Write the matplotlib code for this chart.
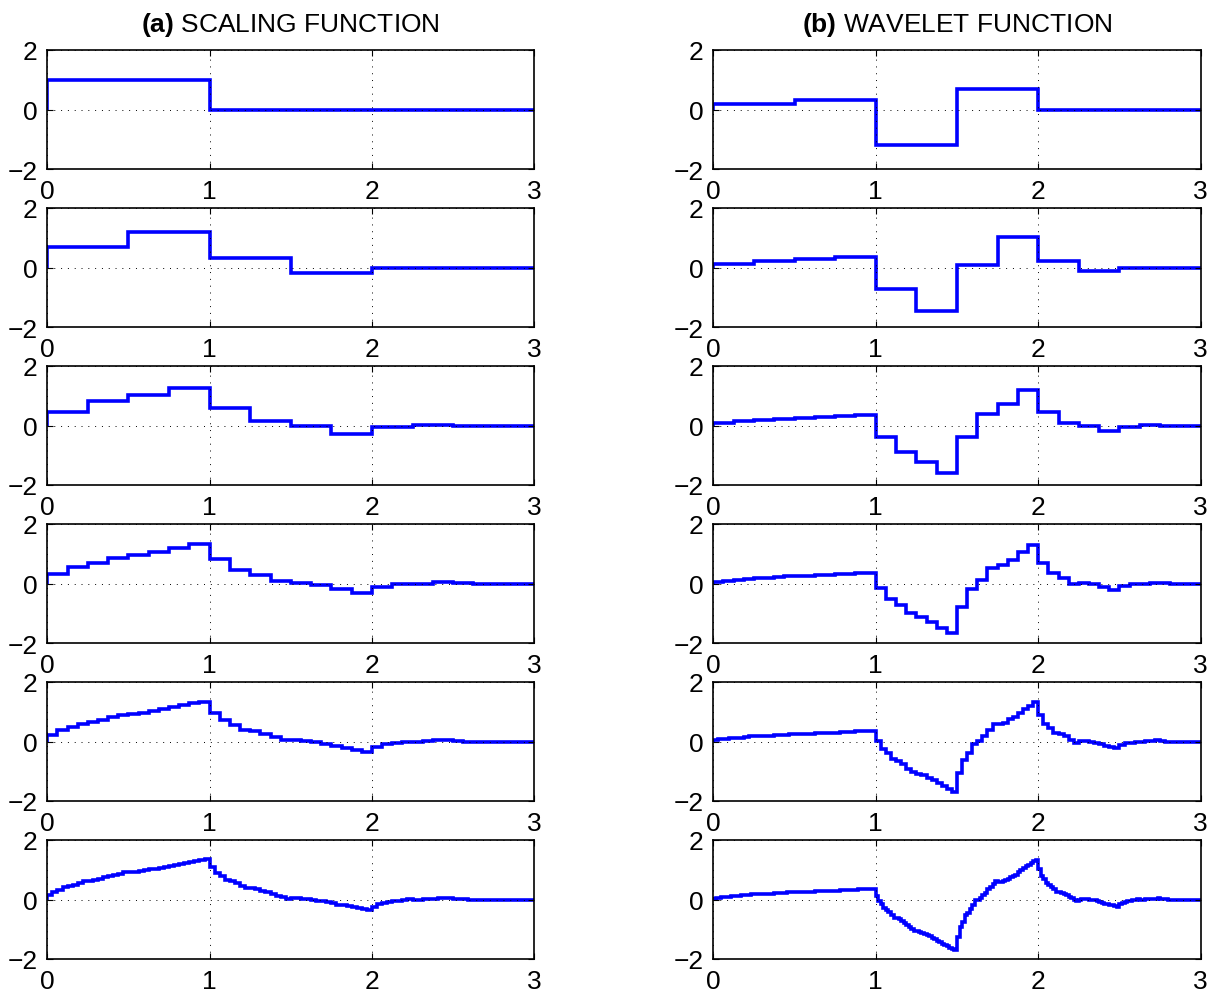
import numpy as np
import matplotlib
matplotlib.use("Agg")
import matplotlib.pyplot as plt

plt.rcParams['font.family'] = ['Liberation Sans', 'DejaVu Sans']
plt.rcParams['mathtext.fontset'] = 'custom'
plt.rcParams['mathtext.rm'] = 'Liberation Sans'
plt.rcParams['mathtext.bf'] = 'Liberation Sans:bold'

# cascade iterates, one value per step; step width halves each row
phi1 = [1.00]
phi2 = [0.68, 1.18, 0.32, -0.18]
phi3 = [0.47, 0.81, 1.02, 1.27, 0.59, 0.16, -0.02, -0.27, -0.06, 0.03]
phi4 = [0.32, 0.55, 0.70, 0.87, 0.96, 1.06, 1.20, 1.32, 0.81, 0.47, 0.30,
        0.08, 0.03, -0.06, -0.20, -0.32, -0.13, -0.02, 0.00, 0.05, 0.01, -0.01]
phi5 = [0.22, 0.38, 0.48, 0.59, 0.65, 0.73, 0.82, 0.90, 0.93, 0.97, 1.03,
        1.08, 1.15, 1.22, 1.28, 1.34, 0.97, 0.71, 0.57, 0.40, 0.35, 0.26,
        0.15, 0.04, 0.05, 0.03, -0.03, -0.07, -0.15, -0.22, -0.28, -0.34,
        -0.19, -0.09, -0.05, 0.00, 0.00, 0.01, 0.04, 0.06, 0.02, 0.00, 0.00,
        -0.01, 0.00, 0.00]
phi6 = [0.15, 0.26, 0.33, 0.41, 0.45, 0.50, 0.56, 0.62, 0.63, 0.66, 0.70,
        0.74, 0.79, 0.83, 0.87, 0.92, 0.92, 0.93, 0.96, 0.98, 1.01, 1.04,
        1.07, 1.09, 1.13, 1.17, 1.20, 1.23, 1.26, 1.29, 1.32, 1.35, 1.09,
        0.90, 0.80, 0.67, 0.62, 0.55, 0.46, 0.37, 0.37, 0.34, 0.29, 0.25,
        0.18, 0.13, 0.07, 0.02, 0.05, 0.05, 0.03, 0.02, -0.01, -0.04, -0.06,
        -0.08, -0.13, -0.17, -0.20, -0.23, -0.26, -0.29, -0.32, -0.35, -0.24,
        -0.16, -0.12, -0.07, -0.06, -0.05, -0.02, 0.01, 0.00, 0.00, 0.01,
        0.01, 0.03, 0.04, 0.05, 0.06, 0.03, 0.02, 0.01, 0.00, 0.00, 0.00,
        -0.01, -0.01, 0.00, 0.00, 0.00, 0.00, 0.00, 0.00]

psi1 = [0.18, 0.32, -1.18, 0.68]
psi2 = [0.12, 0.22, 0.27, 0.34, -0.71, -1.46, 0.09, 1.02, 0.22, -0.12]
psi3 = [0.09, 0.15, 0.19, 0.23, 0.26, 0.29, 0.32, 0.35, -0.37, -0.90, -1.22,
        -1.59, -0.40, 0.37, 0.73, 1.20, 0.47, 0.07, -0.02, -0.19, -0.04, 0.02]
psi4 = [0.06, 0.10, 0.13, 0.16, 0.17, 0.19, 0.22, 0.24, 0.25, 0.26, 0.28,
        0.29, 0.31, 0.33, 0.34, 0.36, -0.14, -0.51, -0.73, -1.00, -1.12,
        -1.28, -1.48, -1.66, -0.78, -0.18, 0.13, 0.52, 0.62, 0.79, 1.05,
        1.28, 0.70, 0.34, 0.20, -0.01, 0.01, -0.03, -0.13, -0.22, -0.09,
        -0.01, 0.00, 0.03, 0.01, 0.00]
psi5 = [0.04, 0.07, 0.09, 0.11, 0.12, 0.13, 0.15, 0.17, 0.17, 0.18, 0.19,
        0.20, 0.21, 0.22, 0.23, 0.25, 0.25, 0.25, 0.26, 0.26, 0.27, 0.28,
        0.29, 0.29, 0.30, 0.31, 0.32, 0.33, 0.34, 0.35, 0.35, 0.36, 0.02,
        -0.24, -0.39, -0.58, -0.66, -0.77, -0.91, -1.04, -1.08, -1.14, -1.23,
        -1.31, -1.41, -1.51, -1.60, -1.70, -1.06, -0.62, -0.37, -0.07, 0.03,
        0.19, 0.39, 0.59, 0.58, 0.63, 0.74, 0.83, 0.97, 1.09, 1.21, 1.32,
        0.89, 0.60, 0.45, 0.27, 0.24, 0.17, 0.06, -0.04, 0.01, 0.01, -0.02,
        -0.04, -0.10, -0.15, -0.19, -0.23, -0.13, -0.06, -0.04, 0.00, 0.00,
        0.01, 0.02, 0.04, 0.02, 0.00, 0.00, -0.01, 0.00, 0.00]
psi6 = [0.03, 0.05, 0.06, 0.08, 0.08, 0.09, 0.10, 0.11, 0.12, 0.12, 0.13,
        0.14, 0.14, 0.15, 0.16, 0.17, 0.17, 0.17, 0.18, 0.18, 0.18, 0.19,
        0.20, 0.20, 0.21, 0.21, 0.22, 0.23, 0.23, 0.24, 0.24, 0.25, 0.25,
        0.25, 0.25, 0.25, 0.26, 0.26, 0.26, 0.26, 0.27, 0.27, 0.27, 0.28,
        0.28, 0.29, 0.29, 0.30, 0.30, 0.30, 0.31, 0.31, 0.32, 0.32, 0.33,
        0.33, 0.33, 0.34, 0.34, 0.35, 0.35, 0.36, 0.36, 0.36, 0.12, -0.05,
        -0.16, -0.29, -0.35, -0.43, -0.52, -0.61, -0.63, -0.67, -0.73, -0.79,
        -0.87, -0.93, -1.00, -1.07, -1.07, -1.08, -1.12, -1.15, -1.20, -1.24,
        -1.29, -1.32, -1.38, -1.44, -1.48, -1.53, -1.57, -1.62, -1.66, -1.71,
        -1.26, -0.94, -0.76, -0.53, -0.45, -0.32, -0.17, -0.01, -0.01, 0.05,
        0.14, 0.21, 0.34, 0.43, 0.53, 0.62, 0.58, 0.58, 0.62, 0.65, 0.70,
        0.76, 0.80, 0.84, 0.93, 1.00, 1.06, 1.11, 1.17, 1.22, 1.28, 1.34,
        1.03, 0.80, 0.69, 0.54, 0.49, 0.43, 0.34, 0.24, 0.25, 0.23, 0.19,
        0.16, 0.09, 0.04, -0.01, -0.06, 0.00, 0.01, 0.01, 0.01, -0.01, -0.03,
        -0.03, -0.04, -0.09, -0.12, -0.14, -0.16, -0.18, -0.20, -0.22, -0.24,
        -0.16, -0.11, -0.08, -0.05, -0.04, -0.03, -0.01, 0.01, 0.00, 0.00,
        0.01, 0.01, 0.02, 0.03, 0.03, 0.04, 0.02, 0.01, 0.01, 0.00, 0.00,
        0.00, -0.01, -0.01, 0.00, 0.00, 0.00, 0.00, 0.00, 0.00]

scaling = [phi1, phi2, phi3, phi4, phi5, phi6]
wavelet = [psi1, psi2, psi3, psi4, psi5, psi6]

W, H = 1219, 995
fig = plt.figure(figsize=(W / 100, H / 100), dpi=100)


def draw(ax, v, h):
    # pad with zeros out to x = 3
    n = int(round(3 / h))
    vals = np.zeros(n)
    vals[:len(v)] = v
    edges = np.arange(n + 1) * h
    ax.stairs(vals, edges, baseline=0, color=(0, 0, 1), lw=2.6)
    ax.set_xlim(0, 3)
    ax.set_ylim(-2, 2)
    ax.set_xticks([0, 1, 2, 3])
    ax.set_yticks([-2, 0, 2])
    ax.set_yticklabels(['\u22122', '0', '2'])
    ax.grid(True, color='k', linestyle=(0, (1, 6)), linewidth=0.7)
    ax.tick_params(direction='in', top=True, right=True, length=4,
                   labelsize=19, pad=7)
    for s in ax.spines.values():
        s.set_linewidth(1.2)


for i in range(6):
    top = 51 + 158 * i
    b = 1 - (top + 119) / H
    axl = fig.add_axes([47.3 / W, b, 487 / W, 119 / H])
    draw(axl, scaling[i], 2.0 ** -i)
    axr = fig.add_axes([713.3 / W, b, 487.4 / W, 119 / H])
    draw(axr, wavelet[i], 2.0 ** -(i + 1))
    if i == 0:
        axl.set_title(r'$\bf{(a)}$ SCALING FUNCTION', fontsize=19, pad=14)
        axr.set_title(r'$\bf{(b)}$ WAVELET FUNCTION', fontsize=19, pad=14)

fig.savefig('out.png', dpi=100)
